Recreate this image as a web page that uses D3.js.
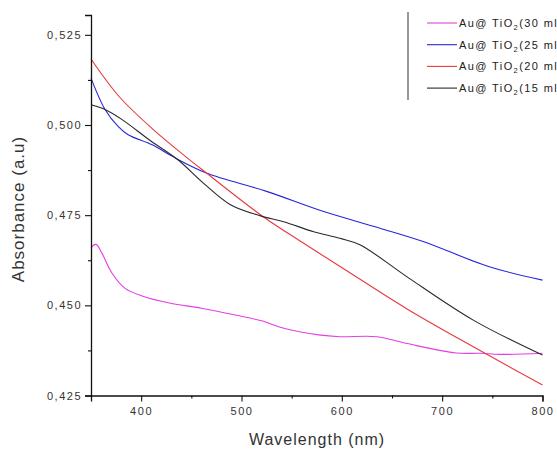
<!DOCTYPE html>
<html>
<head>
<meta charset="utf-8">
<script src="https://cdn.jsdelivr.net/npm/d3@7"></script>
<style>
  body { margin: 0; background: #fff; }
  svg { display: block; font-family: "Liberation Sans", Arial, sans-serif; }
</style>
</head>
<body>
<div id="chart"></div>
<script>
// series: [wavelength nm, absorbance]
var pink30 = [[350,0.4660],[355,0.4669],[361,0.4644],[371,0.4589],[384,0.4547],[401,0.4526],[427,0.4507],[460,0.4492],[494,0.4473],[520,0.4457],[543,0.4436],[577,0.4418],[598,0.4413],[635,0.4413],[665,0.4394],[714,0.4368],[738,0.4367],[758,0.4364],[800,0.4367]];
var blue25 = [[350,0.5130],[364,0.5043],[377,0.4996],[387,0.4973],[411,0.4945],[431,0.4913],[465,0.4867],[525,0.4816],[582,0.4760],[638,0.4714],[681,0.4677],[747,0.4607],[800,0.4570]];
var red20 = [[350,0.5183],[378,0.5079],[411,0.4990],[444,0.4913],[465,0.4867],[522,0.4745],[562,0.4672],[601,0.4603],[665,0.4490],[731,0.4385],[800,0.4279]];
var black15 = [[350,0.5056],[364,0.5043],[381,0.5015],[410,0.4955],[436,0.4905],[462,0.4839],[489,0.4779],[519,0.4748],[542,0.4732],[572,0.4704],[598,0.4686],[618,0.4668],[665,0.4579],[731,0.4459],[800,0.4362]];

var seriesNames = ["(30 ml)", "(25 ml)", "(20 ml)", "(15 ml)"];
var seriesData = [pink30, blue25, red20, black15];
var seriesColors = ["#e33ee3", "#2626d9", "#e8393c", "#2a2a2a"];

var xMajor = [400, 500, 600, 700, 800];
var xMinor = [350, 450, 550, 650, 750];
var yMajor = [0.425, 0.450, 0.475, 0.500, 0.525];
var yMinor = [0.4375, 0.4625, 0.4875, 0.5125];

var W = 557, H = 451;
var margin = {top: 15, right: 14, bottom: 56, left: 91};

var svg = d3.select("#chart")
            .append("svg")
            .attr("width", W)
            .attr("height", H);

var x = d3.scaleLinear()
          .domain([350, 800])
          .range([margin.left, W - margin.right - 0.5]);

var y = d3.scaleLinear()
          .domain([0.425, 0.5305])
          .range([H - margin.bottom + 0.5, margin.top]);

var fmt = d3.formatLocale({decimal: ",", thousands: ".", grouping: [3], currency: ["", ""]}).format(".3f");

// lines
var line = d3.line()
    .x(function(d) { return x(d[0]); })
    .y(function(d) { return y(d[1]); })
    .curve(d3.curveCatmullRom.alpha(0.5));

svg.selectAll(".series")
    .data(seriesData)
  .enter().append("path")
    .attr("class", "series")
    .attr("fill", "none")
    .attr("stroke", function(d, i) { return seriesColors[i]; })
    .attr("stroke-width", 1.1)
    .attr("d", line);

// x axis
var xAxis = svg.append("g")
    .attr("transform", "translate(0," + y(0.425) + ")")
    .call(d3.axisBottom(x).tickValues(xMajor).tickSize(6).tickPadding(6).tickFormat(d3.format("d")));
svg.append("g")
    .attr("transform", "translate(0," + y(0.425) + ")")
    .call(d3.axisBottom(x).tickValues(xMinor).tickSize(3).tickFormat(""))
    .select(".domain").remove();

// y axis
var yAxis = svg.append("g")
    .attr("transform", "translate(" + x(350) + ",0)")
    .call(d3.axisLeft(y).tickValues(yMajor).tickSize(6).tickPadding(3).tickFormat(fmt));
svg.append("g")
    .attr("transform", "translate(" + x(350) + ",0)")
    .call(d3.axisLeft(y).tickValues(yMinor).tickSize(3).tickFormat(""))
    .select(".domain").remove();

svg.selectAll(".domain").attr("stroke", "#111").attr("stroke-width", 1.3);
svg.selectAll(".tick line").attr("stroke", "#111").attr("stroke-width", 1.1);
xAxis.selectAll("text")
    .attr("font-size", 11)
    .attr("letter-spacing", 1.6)
    .attr("fill", "#333")
    .attr("font-family", "Liberation Sans, Arial, sans-serif");
yAxis.selectAll("text")
    .attr("font-size", 11)
    .attr("letter-spacing", 1.5)
    .attr("fill", "#333")
    .attr("font-family", "Liberation Sans, Arial, sans-serif");

// axis titles
svg.append("text")
    .attr("x", 317)
    .attr("y", 445)
    .attr("text-anchor", "middle")
    .attr("font-size", 16)
    .attr("letter-spacing", 1)
    .attr("fill", "#333")
    .text("Wavelength (nm)");

svg.append("text")
    .attr("transform", "translate(24,209) rotate(-90)")
    .attr("text-anchor", "middle")
    .attr("font-size", 17)
    .attr("letter-spacing", 1)
    .attr("fill", "#333")
    .text("Absorbance (a.u)");

// legend (runs past the right edge, as in the original figure)
var legend = svg.append("g").attr("transform", "translate(408,12)");
legend.append("line")
    .attr("x1", 0).attr("x2", 0)
    .attr("y1", 0).attr("y2", 88)
    .attr("stroke", "#555").attr("stroke-width", 1.2);

var rows = legend.selectAll(".row")
    .data(seriesNames)
  .enter().append("g")
    .attr("class", "row")
    .attr("transform", function(d, i) { return "translate(0," + (11 + i * 21.7) + ")"; });

rows.append("line")
    .attr("x1", 19).attr("x2", 49)
    .attr("stroke", function(d, i) { return seriesColors[i]; })
    .attr("stroke-width", 1.1);

var lt = rows.append("text")
    .attr("x", 51)
    .attr("y", 4)
    .attr("font-size", 11)
    .attr("letter-spacing", 1.4)
    .attr("fill", "#222");
lt.append("tspan").text("Au@ TiO");
lt.append("tspan").attr("font-size", 7.5).attr("dy", 3).text("2");
lt.append("tspan").attr("dy", -3).text(function(d) { return d; });
</script>
</body>
</html>
